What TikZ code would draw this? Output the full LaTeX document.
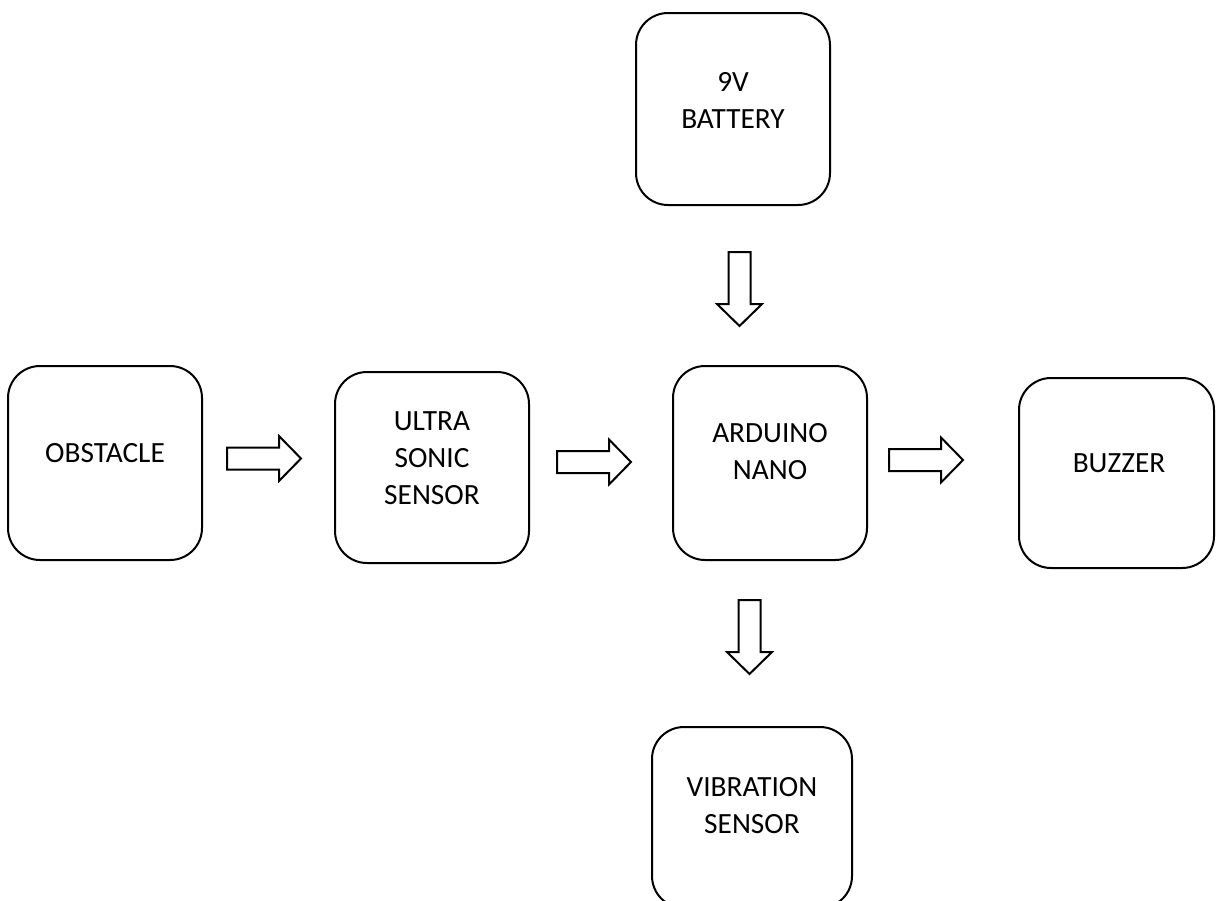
\documentclass[tikz,border=0pt]{standalone}
\usepackage{fontspec}
\setmainfont{Carlito}
\begin{document}
\begin{tikzpicture}[x=0.75pt,y=-0.75pt,
  box/.style={draw=black, line width=1.5pt, rounded corners=24pt, inner sep=0pt},
  lbl/.style={align=center, inner sep=0pt, text=black,
    font=\fontsize{22pt}{27.75pt}\selectfont},
  barrow/.pic={
    \draw[line width=1.5pt, line join=miter, fill=white]
      (0,-11) -- (52,-11) -- (52,-22.5) -- (74,0) -- (52,22.5) -- (52,11) -- (0,11) -- cycle;
  }]
\useasboundingbox (0,0) rectangle (1216,900);
\clip (0,0) rectangle (1216,900);
\fill[white] (0,0) rectangle (1216,900);

% boxes
\node[box, minimum width=145.5pt, minimum height=144pt]    (batt)  at (733,109)   {};
\node[box, minimum width=145.5pt, minimum height=145.5pt]  (obst)  at (105,463)   {};
\node[box, minimum width=145.5pt, minimum height=143.25pt] (ultra) at (432,467.5) {};
\node[box, minimum width=145.5pt, minimum height=145.5pt]  (ard)   at (770,463)   {};
\node[box, minimum width=146.25pt, minimum height=142.5pt] (buzz)  at (1116.5,473) {};
\node[box, minimum width=150pt, minimum height=135.75pt]   (vib)   at (752,817.5) {};

% labels
\node[lbl] (batt-t)  at (733,100)  {9V\\BATTERY};
\node[lbl] (obst-t)  at (105,453)  {OBSTACLE};
\node[lbl] (ultra-t) at (432,458)  {ULTRA\\SONIC\\SENSOR};
\node[lbl] (ard-t)   at (770,452)  {ARDUINO\\NANO};
\node[lbl] (buzz-t)  at (1119,463) {BUZZER};
\node[lbl] (vib-t)   at (752,806)  {VIBRATION\\SENSOR};

% block arrows
\coordinate (a0) at (739.5,252);
\coordinate (a1) at (227,458.5);
\coordinate (a2) at (557,462);
\coordinate (a3) at (889,460);
\coordinate (a4) at (749.5,600);
\pic[rotate=-90] at (a0) {barrow};
\pic at (a1) {barrow};
\pic at (a2) {barrow};
\pic at (a3) {barrow};
\pic[rotate=-90] at (a4) {barrow};
\end{tikzpicture}
\end{document}
